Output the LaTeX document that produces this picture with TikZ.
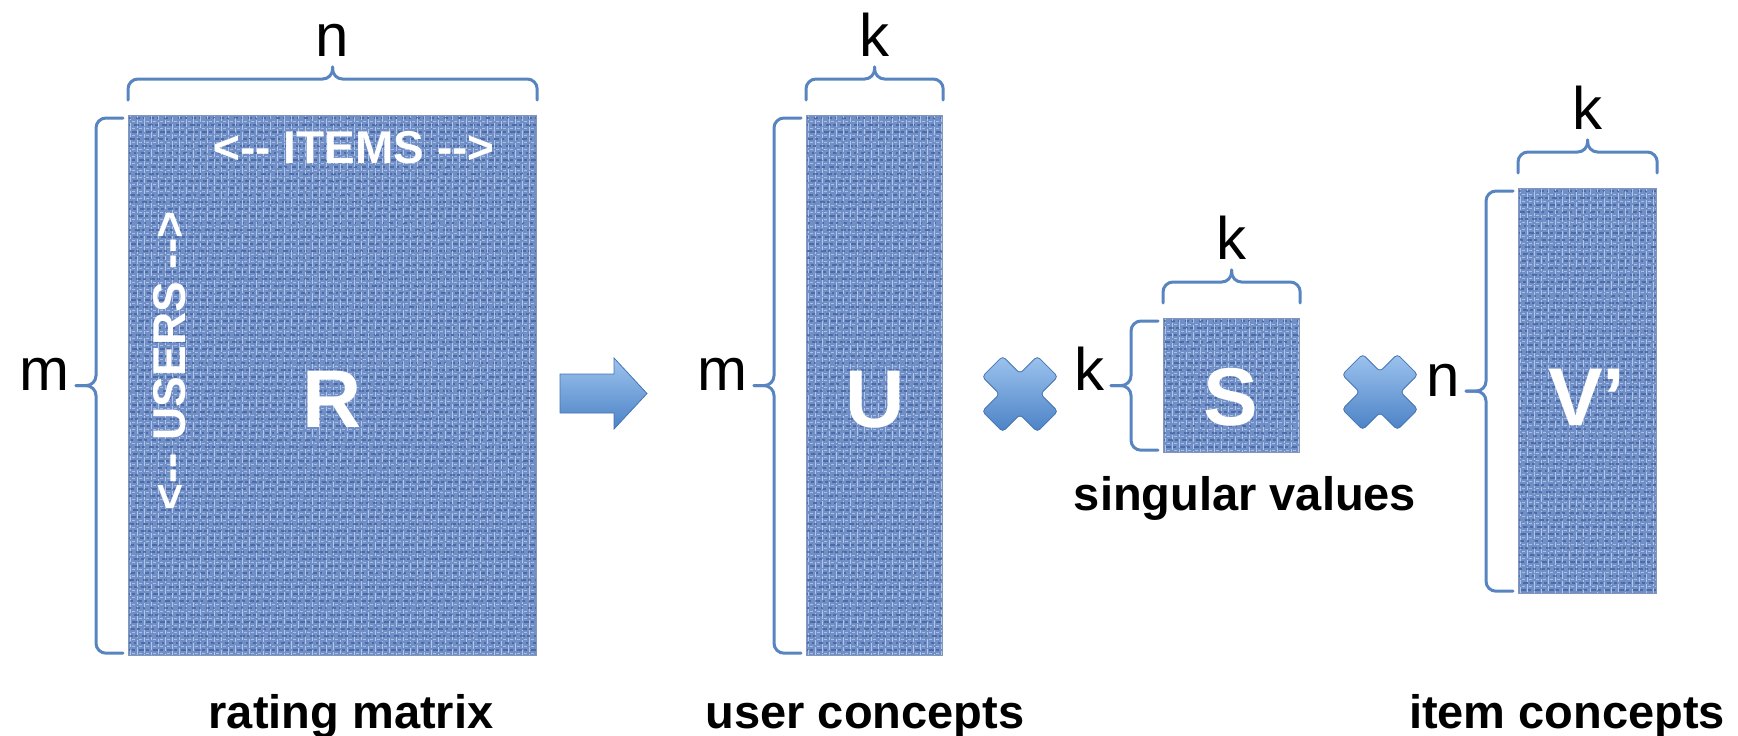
\documentclass[tikz,border=0pt]{standalone}
\usepackage{fontspec}
\setmainfont{Liberation Sans}
\usetikzlibrary{calc}
\definecolor{bracecol}{RGB}{88,132,192}
\definecolor{matbase}{RGB}{112,143,198}
\definecolor{matlight}{RGB}{196,212,240}
\definecolor{matdark}{RGB}{50,80,142}
\definecolor{shtop}{RGB}{156,195,238}
\definecolor{shbot}{RGB}{76,130,198}
\newcommand\topbrace[1]{%
  \draw[brace] ([yshift=7.5pt]#1.north west) -- ([yshift=18pt]#1.north west) -- ([yshift=18pt]#1.north) -- ([yshift=24pt]#1.north);
  \draw[brace] ([yshift=7.5pt]#1.north east) -- ([yshift=18pt]#1.north east) -- ([yshift=18pt]#1.north) -- ([yshift=24pt]#1.north);}
\newcommand\leftbrace[1]{%
  \draw[brace] ([xshift=-2.5pt,yshift=-1.5pt]#1.north west) -- ([xshift=-16pt,yshift=-1.5pt]#1.north west) -- ([xshift=-16pt]#1.west) -- ([xshift=-26pt]#1.west);
  \draw[brace] ([xshift=-2.5pt,yshift=1.5pt]#1.south west) -- ([xshift=-16pt,yshift=1.5pt]#1.south west) -- ([xshift=-16pt]#1.west) -- ([xshift=-26pt]#1.west);}
\begin{document}
\begin{tikzpicture}[x=0.5pt,y=-0.5pt,
  brace/.style={draw=bracecol, line width=1.5pt, rounded corners=5pt, line cap=round},
  lab/.style={font=\fontsize{30}{30}\selectfont, text=black, inner sep=0pt},
  captext/.style={font=\bfseries\fontsize{23.5}{24}\selectfont, text=black, inner sep=0pt, anchor=base},
  big/.style={font=\bfseries\fontsize{41}{41}\selectfont, text=white, inner sep=0pt, anchor=base},
  axis/.style={font=\bfseries\fontsize{23}{23}\selectfont, text=white, inner sep=0pt},
  shapefill/.style={top color=shtop, bottom color=shbot, draw=shbot!90!black, line width=0.4pt},
  mat/.style={fill=matbase, draw=matdark!60, line width=0.6pt, inner sep=0pt, anchor=north west,
    path picture={
      \foreach \k in {0,...,80}{
        \draw[line width=0.8pt, matlight, opacity=0.8, dash pattern=on 2.4pt off 1.1pt on 4.1pt off 0.9pt, dash phase=\k*1.3pt]
          ([xshift=\k*3.5pt+1pt]path picture bounding box.north west) -- ([xshift=\k*3.5pt+1pt]path picture bounding box.south west);
        \draw[line width=0.9pt, matdark, opacity=0.55, dash pattern=on 1.4pt off 2.1pt on 2.4pt off 1.1pt, dash phase=\k*0.9pt]
          ([yshift=-\k*3.5pt-1.2pt]path picture bounding box.north west) -- ([yshift=-\k*3.5pt-1.2pt]path picture bounding box.north east);
        \draw[line width=0.6pt, matlight, opacity=0.7, dash pattern=on 1.4pt off 2.1pt, dash phase=1.7pt]
          ([yshift=-\k*3.5pt-2.9pt]path picture bounding box.north west) -- ([yshift=-\k*3.5pt-2.9pt]path picture bounding box.north east);
      }}}]
\useasboundingbox (0,0) rectangle (1738,735);

% matrices
\node[mat, minimum width=204pt, minimum height=270pt] (R) at (128,115) {};
\node[mat, minimum width=68pt, minimum height=270pt] (U) at (806,115) {};
\node[mat, minimum width=68pt, minimum height=67pt] (S) at (1163,318) {};
\node[mat, minimum width=69pt, minimum height=202.5pt] (V) at (1518,188) {};

% letters inside
\node[big] (Rl) at (332,427) {R};
\node[big] (Ul) at (875,427) {U};
\node[big] (Sl) at (1231,425) {S};
\node[big] (Vl) at (1587,425) {V’};
\node[axis, anchor=base] (items) at (354,163) {<-{}- ITEMS -{}->};
\node[axis, rotate=90] (users) at (170,361) {<-{}- USERS -{}->};

% braces
\topbrace{R}\leftbrace{R}
\topbrace{U}\leftbrace{U}
\topbrace{S}\leftbrace{S}
\topbrace{V}\leftbrace{V}

% dimension labels
\node[lab, anchor=base] (nR) at ([yshift=29.5pt]R.north) {n};
\node[lab, anchor=mid east] (mR) at ([xshift=-29pt]R.west) {m};
\node[lab, anchor=base] (kU) at ([yshift=29.5pt]U.north) {k};
\node[lab, anchor=mid east] (mU) at ([xshift=-29pt]U.west) {m};
\node[lab, anchor=base] (kS) at ([yshift=29.5pt]S.north) {k};
\node[lab, anchor=mid east] (kS2) at ([xshift=-29pt]S.west) {k};
\node[lab, anchor=base] (kV) at ([yshift=29.5pt]V.north) {k};
\node[lab, anchor=mid east] (nV) at ([xshift=-29pt]V.west) {n};

% captions
\node[captext] (capR) at (351,728) {rating matrix};
\node[captext] (capU) at (865,728) {user concepts};
\node[captext] (capS) at (1245,510) {singular values};
\node[captext] (capV) at (1567,728) {item concepts};

% block arrow
\path[shapefill] (560,374) -- (614,374) -- (614,358) -- (647,393.5) -- (614,429) -- (614,413) -- (560,413) -- cycle;

% multiplication signs
\foreach \cx/\cy in {1020/394, 1380/392}{
  \path[shapefill, rounded corners=1.8pt, shift={(\cx,\cy)}]
    (17.32,37.83) -- (0,20.51) -- (-17.32,37.83) -- (-37.83,17.32) -- (-20.51,0) -- (-37.83,-17.32)
    -- (-17.32,-37.83) -- (0,-20.51) -- (17.32,-37.83) -- (37.83,-17.32) -- (20.51,0) -- (37.83,17.32) -- cycle;
}
\end{tikzpicture}
\end{document}
